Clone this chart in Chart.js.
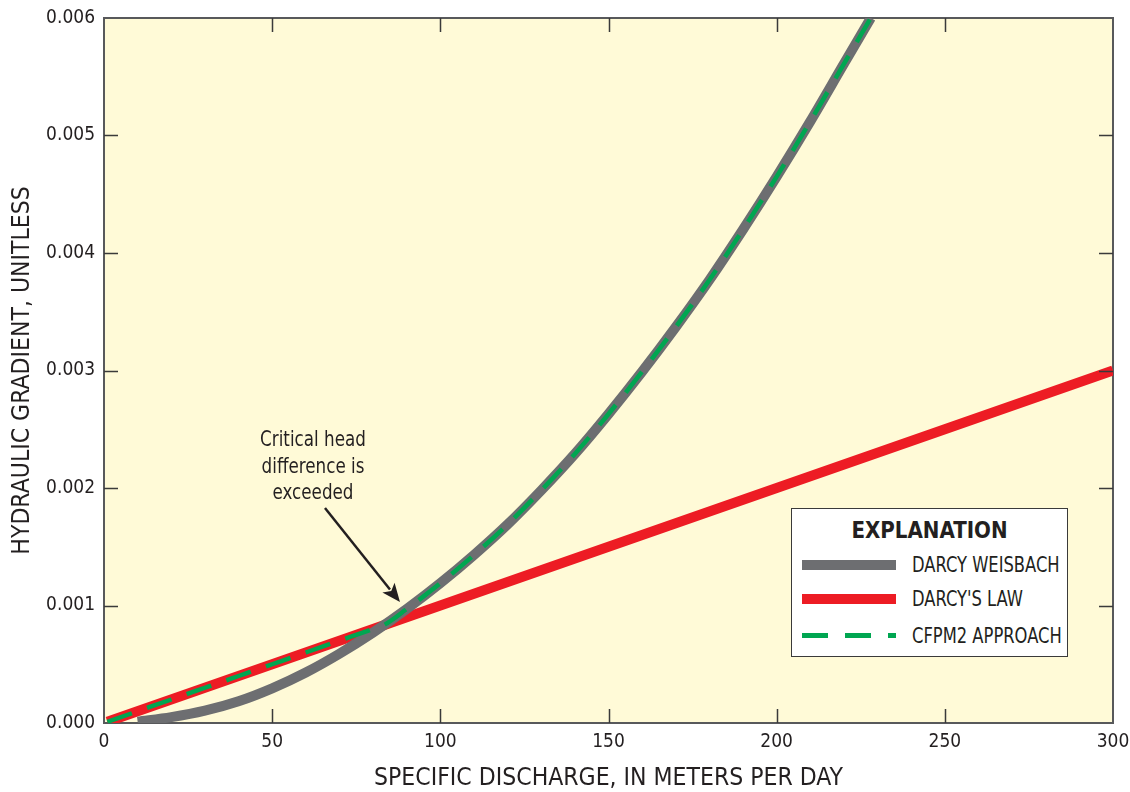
<!DOCTYPE html>
<html>
<head>
<meta charset="utf-8">
<script src="https://cdn.jsdelivr.net/npm/chart.js@4/dist/chart.umd.min.js"></script>
<style>
    body { margin: 0; background: #ffffff; }
    #wrap { position: relative; width: 1130px; height: 792px; }
    #chart { position: absolute; left: 0; top: 0; }
    .narrow { font-family: "Liberation Sans Narrow", "Arial Narrow", "DejaVu Sans Condensed", sans-serif; color: #231f20; }
    #explanation {
        position: absolute; left: 791px; top: 508px; width: 275px; height: 147px;
        border: 1.5px solid #3a3a3a; background: #ffffff;
    }
    #explanation .title {
        position: absolute; left: 0; width: 100%; top: 8px; line-height: 26px;
        text-align: center; font-weight: bold; font-size: 23px;
        transform: scaleX(0.96);
    }
    #explanation .sample { position: absolute; left: 10px; width: 94px; }
    #explanation .label {
        position: absolute; left: 120px; font-size: 21px; line-height: 20px; white-space: nowrap;
        transform: scaleX(0.865); transform-origin: left center;
    }
    #note {
        position: absolute; left: 213px; width: 200px; top: 426px;
        text-align: center; font-size: 21px; line-height: 26.7px;
        transform: scaleX(0.887);
    }
</style>
</head>
<body>
<div id="wrap">
    <canvas id="chart" width="1130" height="792"></canvas>
    <div id="explanation" class="narrow">
        <div class="title">EXPLANATION</div>
        <div class="sample" style="top: 51px; height: 10px; background: #6d6e71;"></div>
        <div class="label" style="top: 46px;">DARCY WEISBACH</div>
        <div class="sample" style="top: 85px; height: 10px; background: #ed1c24;"></div>
        <div class="label" style="top: 80px;">DARCY'S LAW</div>
        <div class="sample" style="top: 124px; height: 5px; background: repeating-linear-gradient(to right, #00a651 0px, #00a651 26px, transparent 26px, transparent 43px);"></div>
        <div class="label" style="top: 117px;">CFPM2 APPROACH</div>
    </div>
    <div id="note" class="narrow">Critical head<br>difference is<br>exceeded</div>
</div>
<script>
const FONT = '"Liberation Sans Narrow", "Arial Narrow", "DejaVu Sans Condensed", sans-serif';
const INK = "#231f20";

// specific discharge (m/d) and hydraulic gradient
const darcyQ = [1, 50, 100, 150, 200, 250, 300];
const darcyGrad = [0.00001, 0.0005, 0.001, 0.0015, 0.002, 0.0025, 0.003];

const weisbachQ = [10, 20, 30, 40, 50, 60, 70, 80, 90, 100, 110, 120, 130, 140, 150, 160, 170, 180, 190, 200, 210, 220, 228];
const weisbachGrad = [0.000012, 0.00005, 0.000105, 0.000185, 0.000295, 0.00043, 0.00059, 0.00077, 0.00097, 0.00119, 0.00143, 0.00169, 0.00198, 0.00229, 0.00263, 0.00299, 0.00337, 0.00377, 0.0042, 0.00465, 0.00512, 0.00561, 0.006];

const cfpmQ = [1, 10, 20, 30, 40, 50, 60, 70, 80, 83, 90, 100, 110, 120, 130, 140, 150, 160, 170, 180, 190, 200, 210, 220, 228];
const cfpmGrad = [0.00001, 0.0001, 0.0002, 0.0003, 0.0004, 0.0005, 0.0006, 0.0007, 0.0008, 0.00083, 0.00097, 0.00119, 0.00143, 0.00169, 0.00198, 0.00229, 0.00263, 0.00299, 0.00337, 0.00377, 0.0042, 0.00465, 0.00512, 0.00561, 0.006];

const xTicks = [0, 50, 100, 150, 200, 250, 300];
const yTicks = [0, 0.001, 0.002, 0.003, 0.004, 0.005, 0.006];

function toPoints(xs, ys) {
    return xs.map((x, i) => ({ x: x, y: ys[i] }));
}

const plotBackground = {
    id: "plotBackground",
    beforeDraw(chart) {
        const { ctx, chartArea } = chart;
        ctx.save();
        ctx.fillStyle = "#fffad7";
        ctx.fillRect(chartArea.left, chartArea.top, chartArea.right - chartArea.left, chartArea.bottom - chartArea.top);
        ctx.restore();
    },
};

// tick marks point into the plot on all four sides
const innerTicks = {
    id: "innerTicks",
    afterDraw(chart) {
        const { ctx, chartArea, scales } = chart;
        const len = 14;
        ctx.save();
        ctx.strokeStyle = "#3a3a3a";
        ctx.lineWidth = 1.5;
        ctx.beginPath();
        xTicks.slice(1, -1).forEach((v) => {
            const px = Math.round(scales.x.getPixelForValue(v)) + 0.5;
            ctx.moveTo(px, chartArea.bottom);
            ctx.lineTo(px, chartArea.bottom - len);
            ctx.moveTo(px, chartArea.top);
            ctx.lineTo(px, chartArea.top + len);
        });
        yTicks.slice(1, -1).forEach((v) => {
            const py = Math.round(scales.y.getPixelForValue(v)) + 0.5;
            ctx.moveTo(chartArea.left, py);
            ctx.lineTo(chartArea.left + len, py);
            ctx.moveTo(chartArea.right, py);
            ctx.lineTo(chartArea.right - len, py);
        });
        ctx.stroke();

        // arrow to the crossing point
        const x0 = scales.x.getPixelForValue(65.7), y0 = scales.y.getPixelForValue(0.00183);
        const x1 = scales.x.getPixelForValue(88), y1 = scales.y.getPixelForValue(0.00103);
        const ang = Math.atan2(y1 - y0, x1 - x0);
        const head = 20;
        ctx.strokeStyle = INK;
        ctx.fillStyle = INK;
        ctx.lineWidth = 2.5;
        ctx.beginPath();
        ctx.moveTo(x0, y0);
        ctx.lineTo(x1 - Math.cos(ang) * head * 0.8, y1 - Math.sin(ang) * head * 0.8);
        ctx.stroke();
        ctx.beginPath();
        ctx.moveTo(x1, y1);
        ctx.lineTo(x1 - head * Math.cos(ang - 0.4), y1 - head * Math.sin(ang - 0.4));
        ctx.lineTo(x1 - head * 0.7 * Math.cos(ang), y1 - head * 0.7 * Math.sin(ang));
        ctx.lineTo(x1 - head * Math.cos(ang + 0.4), y1 - head * Math.sin(ang + 0.4));
        ctx.closePath();
        ctx.fill();
        ctx.restore();
    },
};

const frame = { display: true, color: "#58595b", width: 2 };
const noGrid = { display: true, drawOnChartArea: false, drawTicks: false };

function fixHeight(h) {
    return (scale) => {
        scale.height = h;
        scale.paddingLeft = 0;
        scale.paddingRight = 0;
    };
}

function fixWidth(w) {
    return (scale) => {
        scale.width = w;
        scale.paddingTop = 0;
        scale.paddingBottom = 0;
    };
}

new Chart(document.getElementById("chart"), {
    type: "line",
    data: {
        datasets: [
            {
                label: "CFPM2 APPROACH",
                data: toPoints(cfpmQ, cfpmGrad),
                borderColor: "#00a651",
                borderWidth: 4.5,
                borderDash: [26, 16],
                borderCapStyle: "butt",
                cubicInterpolationMode: "monotone",
                pointRadius: 0,
                order: 0,
            },
            {
                label: "DARCY WEISBACH",
                data: toPoints(weisbachQ, weisbachGrad),
                borderColor: "#6d6e71",
                borderWidth: 10,
                borderCapStyle: "butt",
                cubicInterpolationMode: "monotone",
                pointRadius: 0,
                order: 1,
            },
            {
                label: "DARCY'S LAW",
                data: toPoints(darcyQ, darcyGrad),
                borderColor: "#ed1c24",
                borderWidth: 10,
                borderCapStyle: "butt",
                pointRadius: 0,
                order: 2,
            },
        ],
    },
    options: {
        responsive: false,
        devicePixelRatio: 1,
        animation: false,
        events: [],
        layout: { padding: 0, autoPadding: false },
        plugins: {
            legend: { display: false },
            tooltip: { enabled: false },
        },
        scales: {
            x: {
                type: "linear",
                position: "bottom",
                min: 0,
                max: 300,
                afterBuildTicks: (scale) => { scale.ticks = xTicks.map((v) => ({ value: v })); },
                afterFit: fixHeight(69),
                grid: noGrid,
                border: frame,
                ticks: { color: INK, padding: 8, font: { family: FONT, size: 19 }, maxRotation: 0 },
                title: {
                    display: true,
                    text: "SPECIFIC DISCHARGE, IN METERS PER DAY",
                    color: INK,
                    font: { family: FONT, size: 24.5, lineHeight: 1 },
                    padding: { top: 0, bottom: 1 },
                },
            },
            x2: {
                type: "linear",
                position: "top",
                min: 0,
                max: 300,
                afterFit: fixHeight(18),
                grid: noGrid,
                border: frame,
                ticks: { display: false },
            },
            y: {
                type: "linear",
                position: "left",
                min: 0,
                max: 0.006,
                afterBuildTicks: (scale) => { scale.ticks = yTicks.map((v) => ({ value: v })); },
                afterFit: fixWidth(104),
                grid: noGrid,
                border: frame,
                ticks: {
                    color: INK,
                    padding: 9,
                    font: { family: FONT, size: 19 },
                    callback: (v) => v.toFixed(3),
                },
                title: {
                    display: true,
                    text: "HYDRAULIC GRADIENT, UNITLESS",
                    color: INK,
                    font: { family: FONT, size: 24.5, lineHeight: 1 },
                    padding: { top: 10, bottom: 0 },
                },
            },
            y2: {
                type: "linear",
                position: "right",
                min: 0,
                max: 0.006,
                afterFit: fixWidth(17),
                grid: noGrid,
                border: frame,
                ticks: { display: false },
            },
        },
    },
    plugins: [plotBackground, innerTicks],
});
</script>
</body>
</html>
